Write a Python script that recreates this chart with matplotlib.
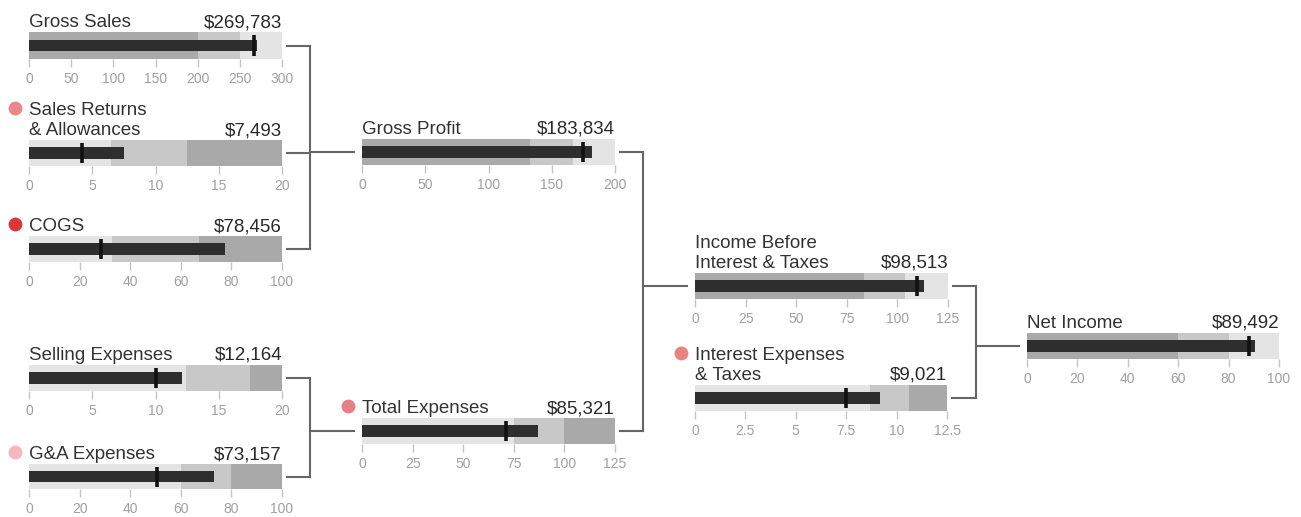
"""Income statement as a tree of bullet charts."""

import matplotlib.pyplot as plt
import numpy as np

plt.rcParams["font.family"] = ["Liberation Sans", "DejaVu Sans"]

W, H = 1301, 517

# --- data ---
names = [
    "Gross Sales",
    "Sales Returns\n& Allowances",
    "COGS",
    "Selling Expenses",
    "G&A Expenses",
    "Gross Profit",
    "Total Expenses",
    "Income Before\nInterest & Taxes",
    "Interest Expenses\n& Taxes",
    "Net Income",
]
value_labels = ["$269,783", "$7,493", "$78,456", "$12,164", "$73,157",
                "$183,834", "$85,321", "$98,513", "$9,021", "$89,492"]
actual = [270, 7.5, 77.5, 12.1, 73, 182, 87, 113, 9.2, 90.5]
target = [267, 4.2, 28.5, 10, 50.5, 175, 71, 109.5, 7.5, 88]
ranges = [
    [200, 250, 300],
    [6.5, 12.5, 20],
    [33, 67, 100],
    [12.4, 17.5, 20],
    [60, 80, 100],
    [133, 167, 200],
    [75, 100, 125],
    [83.5, 104, 125],
    [8.7, 10.6, 12.5],
    [60, 80, 100],
]
tick_step = [50, 5, 20, 5, 20, 50, 25, 25, 2.5, 20]
higher_is_better = [True, False, False, False, False, True, False, True, False, True]
status = [None, "#e8888c", "#d9393b", None, "#f2b8bd", None, "#e58088", None, "#e8847d", None]
links = {5: [0, 1, 2], 6: [3, 4], 7: [5, 6], 9: [7, 8]}

# --- layout (pixels: x0, x1, top, bottom of band) ---
boxes = [
    (29, 282, 32, 59),
    (29, 282, 140, 166),
    (29, 282, 236, 262),
    (29, 282, 365, 391),
    (29, 282, 464, 489),
    (362, 615, 139, 165),
    (362, 615, 418, 444),
    (695, 948, 273, 299),
    (695, 947, 385, 411),
    (1027, 1279, 333, 359),
]

BANDS = ["#a9a9a9", "#c8c8c8", "#e4e4e4"]
BAR = "#2e2e2e"
LINE = "#666666"


def bullet(ax, rng, act, tgt, step, good_high):
    cols = BANDS if good_high else BANDS[::-1]
    lo = 0
    for hi, c in zip(rng, cols):
        ax.barh(0.5, hi - lo, left=lo, height=1, color=c, lw=0)
        lo = hi
    ax.barh(0.5, act, height=0.44, color=BAR, lw=0)
    ax.plot([tgt, tgt], [0.1, 0.9], color="#111111", lw=2.6, solid_capstyle="butt")
    ax.set_xlim(0, rng[-1])
    ax.set_ylim(0, 1)
    ticks = np.arange(0, rng[-1] + step / 2, step)
    ax.set_xticks(ticks)
    ax.set_xticklabels([f"{t:g}" for t in ticks])
    ax.set_yticks([])
    ax.tick_params(axis="x", length=5.5, width=1, color="#c4c4c4",
                   labelcolor="#a0a0a0", labelsize=10, pad=4)
    for s in ax.spines.values():
        s.set_visible(False)


def cy(i):
    return (boxes[i][2] + boxes[i][3]) / 2


fig = plt.figure(figsize=(W / 100, H / 100), dpi=100)
ov = fig.add_axes([0, 0, 1, 1], zorder=0)
ov.set_xlim(0, W)
ov.set_ylim(H, 0)
ov.axis("off")

for i, (x0, x1, yt, yb) in enumerate(boxes):
    ax = fig.add_axes([x0 / W, 1 - yb / H, (x1 - x0) / W, (yb - yt) / H], zorder=1)
    bullet(ax, ranges[i], actual[i], target[i], tick_step[i], higher_is_better[i])

    lines = names[i].split("\n")
    base = yt - 5
    for j, ln in enumerate(lines):
        ov.text(x0, base - (len(lines) - 1 - j) * 20, ln, fontsize=13.5,
                color="#333333", ha="left", va="baseline")
    ov.text(x1, base, value_labels[i], fontsize=13.5, color="#2a2a2a",
            ha="right", va="baseline")
    if status[i]:
        first = base - (len(lines) - 1) * 20
        ov.scatter([x0 - 14], [first - 7], s=100, color=status[i], lw=0)

# connectors between children and their parent
for p, kids in links.items():
    jx = max(boxes[k][1] for k in kids) + 28
    ys = [cy(k) for k in kids]
    for k in kids:
        ov.plot([boxes[k][1] + 5, jx], [cy(k)] * 2, color=LINE, lw=1.5)
    ov.plot([jx, jx], [min(ys), max(ys)], color=LINE, lw=1.5)
    ov.plot([jx, boxes[p][0] - 8], [cy(p)] * 2, color=LINE, lw=1.5)

fig.savefig("out.png", dpi=100)
